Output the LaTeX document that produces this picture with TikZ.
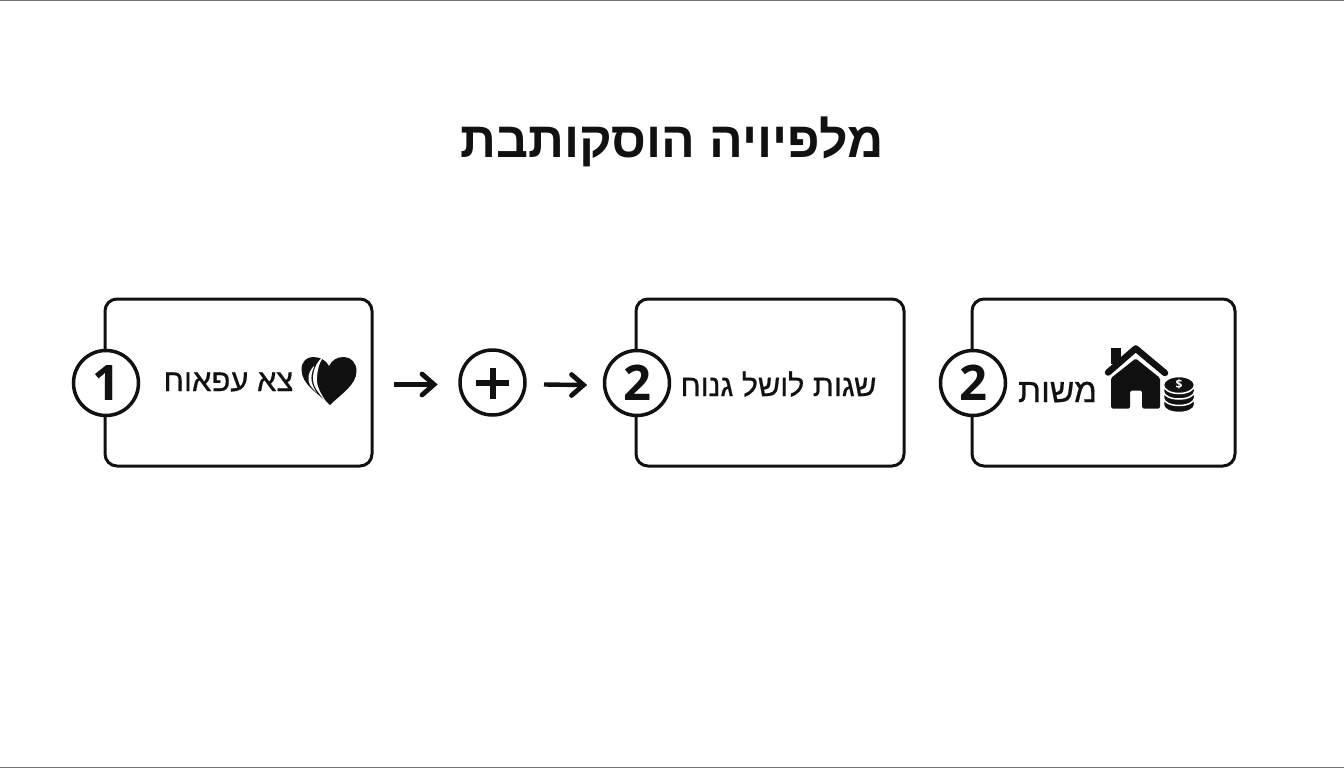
\documentclass[tikz,border=0pt]{standalone}
\usepackage{fontspec}
\setmainfont{Open Sans}
\newfontfamily\hebfont[Script=Hebrew]{Liberation Sans}
\newfontfamily\hebmid[Script=Hebrew,FakeBold=0.6]{Liberation Sans}
\TeXXeTstate=1
\usetikzlibrary{arrows.meta}
\definecolor{ink}{HTML}{111111}
\tikzset{
  x=1pt,y=-1pt,
  card/.style={draw=ink,line width=3pt,rounded corners=12pt,fill=white,inner sep=0pt,outer sep=0pt,minimum height=167pt},
  badge/.style={circle,draw=ink,line width=3.5pt,fill=white,minimum size=65pt,inner sep=0pt,outer sep=0pt,font=\fontsize{49}{49}\selectfont\bfseries,text=ink},
  label/.style={text=ink,inner sep=0pt},
  flow/.style={draw=ink,line width=4.4pt},
  flowhead/.style={draw=ink,line width=4.8pt,line cap=round,line join=miter},
  edge/.style={fill=black!55,draw=none}
}
\begin{document}
\begin{tikzpicture}
\useasboundingbox (0,0) rectangle (1344,768);
\fill[white] (0,0) rectangle (1344,768);
\path[edge] (0,0) rectangle (1344,1);
\path[edge] (0,767) rectangle (1344,768);
\node[font=\hebfont\bfseries\fontsize{50}{54}\selectfont,text=ink,inner sep=0pt] (title) at (672,142) {\beginR מלפיויה הוסקותבת\endR};
% cards
\node[card,minimum width=267pt] (c1) at (238.5,382.5) {};
\node[card,minimum width=268pt] (c2) at (770,382.5) {};
\node[card,minimum width=263pt] (c3) at (1103.5,382.5) {};
% badges
\node[badge] (b1) at (106,383) {1};
\node[badge] (plus) at (492.5,382.5) {};
\node[badge] (b2) at (637,383) {2};
\node[badge] (b3) at (973,383) {2};
\fill[ink] (476,380) rectangle (509,386);
\fill[ink] (489.5,368) rectangle (495.5,399);
% labels
\node[label,font=\hebmid\fontsize{31}{34}\selectfont] (t1) at (228.5,382) {\beginR צא עפאוח\endR};
\node[label,font=\hebmid\fontsize{30.5}{34}\selectfont] (t2) at (778.5,384) {\beginR שגות לושל גנוח\endR};
\node[label,font=\hebmid\fontsize{33.5}{36}\selectfont] (t3) at (1057.5,392) {\beginR משות\endR};
% arrows
\coordinate (a1s) at ([shift={(22,2)}]c1.east);
\coordinate (a1e) at ([shift={(-26,2)}]plus.west);
\coordinate (a2s) at ([shift={(19,2)}]plus.east);
\coordinate (a2e) at ([shift={(-21,2)}]b2.west);
\draw[flow] (a1s) -- (a1e);
\draw[flow] (a2s) -- (a2e);
\draw[flowhead] ([shift={(-12,-10.5)}]a1e) -- (a1e) -- ([shift={(-12,10.5)}]a1e);
\draw[flowhead] ([shift={(-12,-10.5)}]a2e) -- (a2e) -- ([shift={(-12,10.5)}]a2e);
% heart
\fill[ink] (330,405) .. controls (318,393) and (302,385) .. (301.5,370) .. controls (301.5,361) and (307,357) .. (313,357)
  .. controls (320,357) and (326,360) .. (329,366) .. controls (332,360) and (337,357) .. (344,357)
  .. controls (351,357) and (356.5,363) .. (356.5,371) .. controls (356.5,385) and (341,394) .. (330,405) -- cycle;
\fill[white] (321,358.5) .. controls (313,366) and (311,380) .. (315,387) .. controls (318,393) and (323,398) .. (327,403)
  .. controls (321,394) and (316,386) .. (317,377) .. controls (317.5,370) and (319,364) .. (322,359) -- cycle;
\fill[white] (314,366) .. controls (308,372) and (307,380) .. (310,385) .. controls (312,388) and (315,391) .. (317,393)
  .. controls (312,386) and (309,378) .. (314,367) -- cycle;
% house
\draw[ink,line width=6.5pt,line cap=round,line join=round] (1108,372.5) -- (1135.7,348.5) -- (1165,373);
\fill[ink] (1111,348) rectangle (1121,364);
\fill[ink,rounded corners=1.5pt] (1111,378) -- (1135.7,358.5) -- (1160,378) -- (1160,408.5) -- (1142,408.5) -- (1142,390.5) -- (1130,390.5) -- (1130,408.5) -- (1111,408.5) -- cycle;
% coins
\foreach \yy in {405,398,391.5}{
  \fill[ink,draw=white,line width=1.5pt] (1163.5,\yy) arc[start angle=180,end angle=360,x radius=15.5pt,y radius=7.5pt] -- (1194.5,\yy-5) -- (1163.5,\yy-5) -- cycle;
}
\fill[ink,draw=white,line width=1.5pt] (1179,385) ellipse[x radius=15.5pt,y radius=8.5pt];
\node[font=\fontsize{12}{12}\selectfont\bfseries,text=white,inner sep=0pt] (dollar) at (1179,384.5) {\$};
\end{tikzpicture}
\end{document}
